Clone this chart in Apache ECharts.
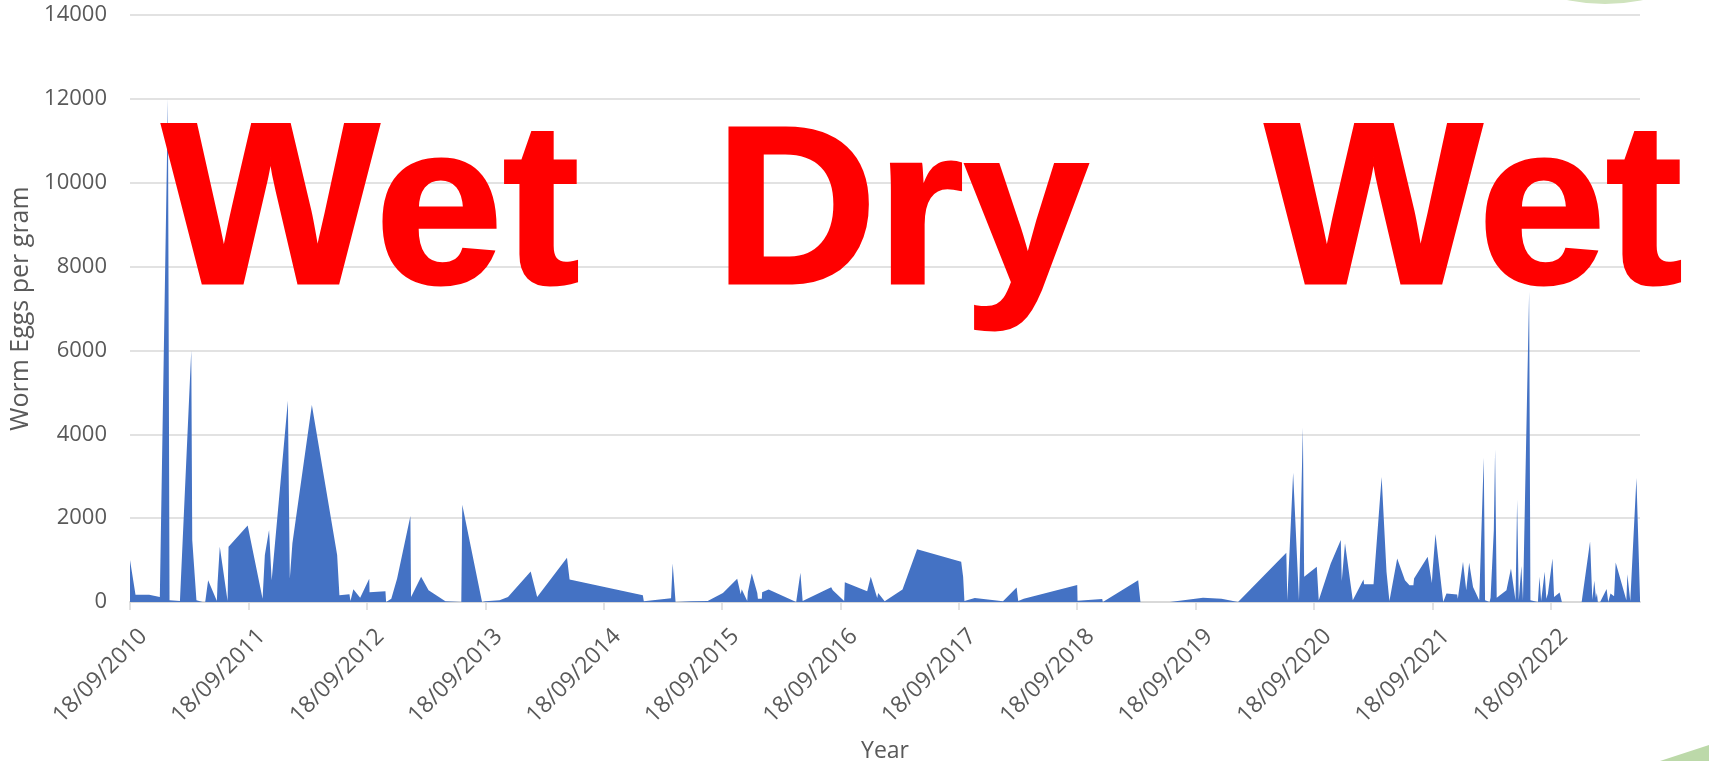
<!DOCTYPE html>
<html>
<head>
<meta charset="utf-8">
<script src="https://cdn.jsdelivr.net/npm/echarts@6/dist/echarts.min.js"></script>
<style>
html,body{margin:0;padding:0;background:#ffffff;}
#chart{width:1709px;height:761px;}
</style>
</head>
<body>
<div id="chart"></div>
<script>
// ---- data ----
const sampleDates = [
'2010-09-18','2010-10-05','2010-11-16','2010-12-19','2011-01-13','2011-01-18','2011-02-19','2011-02-22','2011-03-26','2011-03-29',
'2011-04-11','2011-04-30','2011-05-08','2011-05-17','2011-06-13','2011-06-15','2011-06-22','2011-07-16','2011-07-19','2011-09-16',
'2011-11-01','2011-11-08','2011-11-21','2011-11-29','2012-01-18','2012-01-24','2012-02-01','2012-04-01','2012-06-18','2012-06-25',
'2012-07-26','2012-07-29','2012-08-07','2012-08-28','2012-09-25','2012-09-26','2012-11-14','2012-11-16','2012-12-02','2012-12-20',
'2013-01-30','2013-02-01','2013-03-04','2013-03-27','2013-05-18','2013-07-06','2013-07-09','2013-09-08','2013-09-18','2013-11-01',
'2013-11-27','2014-02-05','2014-02-25','2014-05-28','2014-06-05','2015-01-17','2015-01-20','2015-04-14','2015-04-19','2015-04-28',
'2015-06-15','2015-08-05','2015-09-21','2015-11-04','2015-11-15','2015-11-18','2015-12-05','2015-12-07','2015-12-19','2016-01-05',
'2016-01-07','2016-01-19','2016-01-20','2016-02-09','2016-05-04','2016-05-17','2016-05-24','2016-08-20','2016-08-25','2016-09-29',
'2016-10-01','2016-12-09','2016-12-20','2017-01-09','2017-01-12','2017-02-01','2017-03-28','2017-05-12','2017-09-25','2017-10-01',
'2017-10-05','2017-11-06','2018-02-01','2018-03-15','2018-03-20','2018-04-06','2018-09-18','2018-09-19','2018-12-04','2018-12-06',
'2018-12-12','2019-03-25','2019-04-01','2019-07-01','2019-10-11','2019-12-07','2020-01-27','2020-06-24','2020-06-27','2020-07-15',
'2020-08-02','2020-08-14','2020-08-18','2020-09-26','2020-10-02','2020-11-08','2020-12-09','2020-12-12','2020-12-22','2021-01-15',
'2021-02-17','2021-02-19','2021-03-20','2021-04-14','2021-04-29','2021-05-08','2021-06-01','2021-06-25','2021-07-09','2021-07-21',
'2021-07-23','2021-09-03','2021-09-16','2021-09-18','2021-09-27','2021-10-21','2021-10-31','2021-12-03','2021-12-05','2021-12-21',
'2021-12-31','2022-01-09','2022-01-21','2022-02-09','2022-02-23','2022-02-27','2022-03-13','2022-03-16','2022-03-26','2022-03-30',
'2022-04-04','2022-05-04','2022-05-18','2022-06-01','2022-06-06','2022-06-11','2022-06-19','2022-06-24','2022-07-13','2022-07-17',
'2022-08-09','2022-08-14','2022-08-19','2022-08-30','2022-09-04','2022-09-09','2022-09-23','2022-09-28','2022-10-15','2022-10-22',
'2022-12-22','2023-01-17','2023-01-24','2023-01-30','2023-02-04','2023-02-07','2023-02-10','2023-02-17','2023-03-09','2023-03-14',
'2023-03-21','2023-04-01','2023-04-06','2023-05-09','2023-05-12','2023-05-21','2023-06-09','2023-06-20'
];
const eggCounts = [
1000,170,170,120,12000,40,24,20,6000,1480,
40,0,0,520,24,440,1320,24,1320,1824,
80,1120,1720,520,4800,560,1400,4700,1120,160,
184,24,304,104,552,232,256,0,80,560,
2050,120,600,280,16,0,2320,0,16,40,
120,728,120,1056,536,160,16,88,920,0,
16,24,216,552,184,304,24,240,680,216,
80,80,232,296,0,696,24,352,280,24,
472,256,600,96,216,16,296,1256,960,600,
24,96,16,344,24,80,408,32,72,0,
0,520,0,0,104,80,0,1176,40,3080,
40,4160,600,840,40,920,1480,500,1400,40,
536,424,424,2984,720,24,1040,520,400,400,
560,1080,456,720,1624,0,200,176,80,960,
280,936,360,40,3440,40,0,104,1700,3640,
104,280,800,40,2440,40,856,40,7400,40,
0,600,24,720,80,200,1040,120,224,0,
0,1440,56,504,104,216,0,0,312,0,
200,136,944,40,664,24,2960,100
];
const xTickLabels = ['18/09/2010','18/09/2011','18/09/2012','18/09/2013','18/09/2014','18/09/2015','18/09/2016',
  '18/09/2017','18/09/2018','18/09/2019','18/09/2020','18/09/2021','18/09/2022'];
const yAxisTitle = 'Worm Eggs per gram';
const xAxisTitle = 'Year';
const seasonLabels = ['Wet', 'Dry', 'Wet'];

// ---- helpers ----
function isoToTs(s){ const p = s.split('-').map(Number); return new Date(p[0], p[1]-1, p[2]).getTime(); }
function dmyToTs(s){ const p = s.split('/').map(Number); return new Date(p[2], p[1]-1, p[0]).getTime(); }

const seriesData = sampleDates.map((d, i) => [isoToTs(d), eggCounts[i]]);
const tickValues = xTickLabels.map(dmyToTs);
const labelByTs = {};
tickValues.forEach((t, i) => { labelByTs[t] = xTickLabels[i]; });

const labelFont = '"Open Sans", "Liberation Sans", sans-serif';
function bigText(txt, x, y, size) {
  return {
    type: 'text', silent: true, z: 100, x: x, y: y,
    style: {
      text: txt,
      font: 'bold ' + size + 'px "Liberation Sans", Arial, sans-serif',
      fill: '#ff0000',
      stroke: '#ff0000', lineWidth: 3, lineJoin: 'round',
      align: 'left', verticalAlign: 'middle', textAlign: 'left', textVerticalAlign: 'middle'
    }
  };
}

const chart = echarts.init(document.getElementById('chart'), null, {renderer: 'canvas'});
chart.setOption({
  animation: false,
  backgroundColor: '#ffffff',
  grid: {left: 130, right: 69, top: 15, bottom: 159, containLabel: false, outerBoundsMode: 'none'},
  xAxis: {
    type: 'value',
    min: seriesData[0][0],
    max: seriesData[seriesData.length - 1][0],
    name: xAxisTitle,
    nameLocation: 'middle',
    nameGap: 128,
    nameTextStyle: {fontSize: 23, color: '#595959', fontFamily: labelFont},
    axisLine: {show: true, onZero: false, lineStyle: {color: '#d9d9d9', width: 2}},
    axisTick: {show: true, length: 8, customValues: tickValues, lineStyle: {color: '#d9d9d9', width: 1.5}},
    splitLine: {show: false},
    axisLabel: {
      customValues: tickValues,
      rotate: 45,
      margin: 17.5,
      verticalAlign: 'top',
      lineHeight: 38,
      fontSize: 23,
      color: '#595959',
      fontFamily: labelFont,
      formatter: function (v) { return labelByTs[v] || ''; }
    }
  },
  yAxis: {
    type: 'value',
    min: 0,
    max: 14000,
    interval: 2000,
    name: yAxisTitle,
    nameLocation: 'middle',
    nameGap: 76,
    nameTextStyle: {fontSize: 25, color: '#595959', fontFamily: labelFont},
    axisLine: {show: false},
    axisTick: {show: false},
    splitLine: {show: true, lineStyle: {color: '#d9d9d9', width: 1.5}},
    axisLabel: {margin: 23, fontSize: 22, color: '#595959', fontFamily: labelFont,
      formatter: function (v) { return String(v); }}
  },
  series: [{
    type: 'line',
    data: seriesData,
    showSymbol: false,
    symbol: 'none',
    silent: true,
    lineStyle: {width: 0, opacity: 0},
    areaStyle: {color: '#4472C4', opacity: 1},
    z: 2
  }],
  graphic: [
    {type: 'circle', silent: true, z: 0, shape: {cx: 1605, cy: -179, r: 183}, style: {fill: '#cfe3bd'}},
    {type: 'polygon', silent: true, z: 0, shape: {points: [[1660, 761], [1709, 745], [1709, 761]]}, style: {fill: '#bcd9a9'}},
    bigText(seasonLabels[0], 162, 220, 230),
    bigText(seasonLabels[1], 715, 221.5, 224),
    bigText(seasonLabels[2], 1265, 220, 230)
  ]
});
</script>
</body>
</html>
